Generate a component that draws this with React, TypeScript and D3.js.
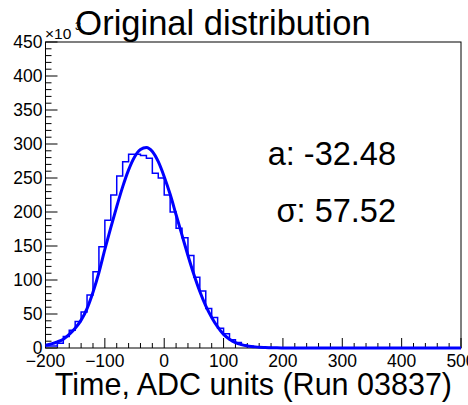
import React from "react";
import * as d3 from "d3";

// ---- data (counts in thousands) ----
const histStart = -200;
const binWidth = 10;
const histCounts: number[] = [
  3, 3, 7, 17, 26, 39, 53, 78, 112, 149,
  188, 225, 253, 274, 285, 285, 283, 279, 257, 250,
  225, 200, 176, 162, 136, 104, 84, 58, 45, 29,
  21, 12, 8, 4.5, 2.5, 1.6, 1.0, 0.6, 0.4, 0.3,
  0.2, 0.1, 0.1, 0.1, 0.1, 0.1, 0.1, 0.1, 0.1, 0.1,
  0.1, 0.1, 0.1, 0.1, 0.1, 0.1, 0.1, 0.1, 0.1, 0.1,
  0.1, 0.1, 0.1, 0.1, 0.1, 0.1, 0.1, 0.1, 0.1, 0.1,
];
const fitX: number[] = [
  -200, -190, -180, -170, -160, -150, -140, -130, -120, -110,
  -100, -90, -80, -70, -60, -50, -40, -30, -20, -10,
  0, 10, 20, 30, 40, 50, 60, 70, 80, 90,
  100, 110, 120, 130, 140, 150, 160, 170, 180, 190,
  200, 300, 400, 500,
];
const fitY: number[] = [
  4, 6, 9, 13, 20, 29, 41, 58, 82, 111,
  145, 177, 208, 237, 262, 281, 292, 295, 289, 274,
  252, 226, 196, 166, 136, 108, 83, 62, 45, 31,
  20, 13, 8, 5, 3, 2, 1, 0.6, 0.3, 0.2,
  0.1, 0, 0, 0,
];
const xMajorTicks = [-200, -100, 0, 100, 200, 300, 400, 500];
const yMajorTicks = [0, 50, 100, 150, 200, 250, 300, 350, 400, 450];
const title = "Original distribution";
const xTitle = "Time, ADC units (Run 03837)";
const statA = "a: -32.48";
const statSigma = "σ: 57.52";

const W = 468;
const H = 405;
const frame = { left: 45.5, right: 461, top: 42, bottom: 348 };
const BLUE = "#0000ff";
const FONT = "'Liberation Sans', Arial, Helvetica, sans-serif";

export default function App() {
  const x = d3.scaleLinear().domain([-200, 500]).range([frame.left, frame.right]);
  const y = d3.scaleLinear().domain([0, 450]).range([frame.bottom, frame.top]);

  const histPts: [number, number][] = histCounts.map((c, i) => [histStart + i * binWidth, c]);
  histPts.push([histStart + histCounts.length * binWidth, histCounts[histCounts.length - 1]]);
  const histPath = d3
    .line<[number, number]>()
    .x((d) => x(d[0]))
    .y((d) => y(d[1]))
    .curve(d3.curveStepAfter)(histPts) as string;

  const fitPath = d3
    .line<number>()
    .x((_, i) => x(fitX[i]))
    .y((d) => y(d))
    .curve(d3.curveMonotoneX)(fitY) as string;

  const xMinor = d3.range(-200, 501, 20).filter((v) => v % 100 !== 0);
  const yMinor = d3.range(0, 451, 10).filter((v) => v % 50 !== 0);

  return (
    <svg
      width={W}
      height={H}
      style={{ position: "absolute", left: 0, top: 0, background: "#fff" }}
      fontFamily={FONT}
    >
      <rect x={0} y={0} width={W} height={H} fill="#fff" />
      {/* frame */}
      <rect
        x={frame.left}
        y={frame.top}
        width={frame.right - frame.left}
        height={frame.bottom - frame.top}
        fill="none"
        stroke="#000"
        strokeWidth={1}
      />
      {/* x ticks */}
      {xMajorTicks.map((v) => (
        <line key={"xm" + v} x1={x(v)} x2={x(v)} y1={frame.bottom} y2={frame.bottom - 10} stroke="#000" />
      ))}
      {xMinor.map((v) => (
        <line key={"xn" + v} x1={x(v)} x2={x(v)} y1={frame.bottom} y2={frame.bottom - 5} stroke="#000" />
      ))}
      {/* y ticks */}
      {yMajorTicks.map((v) => (
        <line key={"ym" + v} x1={frame.left} x2={frame.left + 12} y1={y(v)} y2={y(v)} stroke="#000" />
      ))}
      {yMinor.map((v) => (
        <line key={"yn" + v} x1={frame.left} x2={frame.left + 6} y1={y(v)} y2={y(v)} stroke="#000" />
      ))}
      {/* histogram */}
      <path d={histPath} fill="none" stroke={BLUE} strokeWidth={1.5} />
      {/* fit */}
      <path d={fitPath} fill="none" stroke={BLUE} strokeWidth={3} strokeLinejoin="round" />
      {/* tick labels */}
      {xMajorTicks.map((v) => (
        <text key={"xl" + v} x={x(v)} y={367} fontSize={17.5} textAnchor="middle" fill="#000">
          {v < 0 ? "\u2212" + Math.abs(v) : String(v)}
        </text>
      ))}
      {yMajorTicks.map((v) => (
        <text key={"yl" + v} x={42.5} y={y(v) + 6} fontSize={17.5} textAnchor="end" fill="#000">
          {String(v)}
        </text>
      ))}
      {/* title */}
      <text x={223} y={35} fontSize={34.5} textAnchor="middle" fill="#000">
        {title}
      </text>
      {/* exponent */}
      <text x={45} y={39} fontSize={15.5} fill="#000">
        ×10
      </text>
      <text x={75} y={30} fontSize={11} fill="#000">
        3
      </text>
      {/* axis title */}
      <text x={452} y={395} fontSize={30.5} textAnchor="end" fill="#000">
        {xTitle}
      </text>
      {/* stats */}
      <text x={396} y={165} fontSize={32.5} textAnchor="end" fill="#000">
        {statA}
      </text>
      <text x={396} y={222} fontSize={32.5} textAnchor="end" fill="#000">
        {statSigma}
      </text>
    </svg>
  );
}
